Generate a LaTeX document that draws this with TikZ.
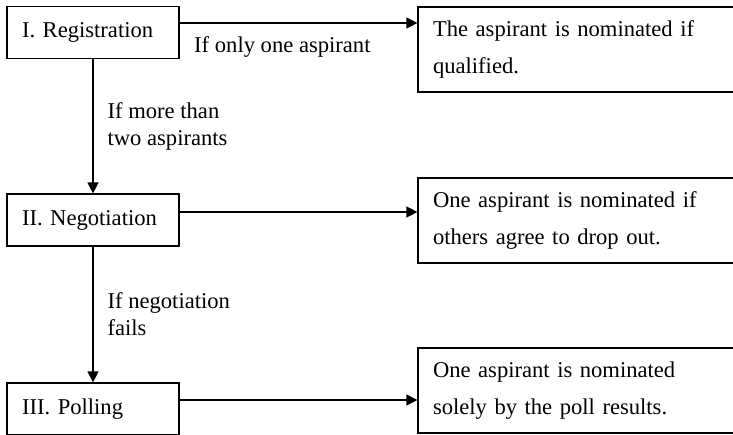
\documentclass[tikz,border=0pt]{standalone}
\usepackage{fontspec}
\setmainfont{Liberation Serif}
\usetikzlibrary{arrows.meta}

\tikzset{
  stage/.style={draw, line width=0.6pt, text width=71pt, inner xsep=7.5pt, inner ysep=0pt,
    minimum height=26pt, align=left, font=\fontsize{11.3}{13.5}\selectfont},
  result/.style={draw, line width=0.6pt, text width=146pt, inner xsep=7.5pt, inner ysep=0pt,
    minimum height=42.5pt, align=left, font=\fontsize{11.3}{18.5}\selectfont},
  cond/.style={inner sep=0pt, align=left, font=\fontsize{11.3}{13.5}\selectfont},
  flow/.style={line width=0.6pt, -{Triangle[length=5.5pt,width=5.5pt]}}
}

\begin{document}
\begin{tikzpicture}[x=0.5pt, y=-0.5pt]
        \useasboundingbox (0,0) rectangle (733,434);

        \node[stage] (reg) at (93, 32.5) {I. Registration};
        \node[stage] (neg) at (93, 220) {II. Negotiation};
        \node[stage] (poll) at (93, 409) {III. Polling};

        \node[result] (nom1) at (579, 49.5) {The aspirant is nominated if\\qualified.};
        \node[result] (nom2) at (579, 220.5) {One aspirant is nominated if\\others agree to drop out.};
        \node[result] (nom3) at (579, 390.5) {One aspirant is nominated\\solely by the poll results.};

        \coordinate (lvl1) at (0, 23);
        \coordinate (lvl2) at (0, 212);
        \coordinate (lvl3) at (0, 400);

        \draw[flow] (reg.east |- lvl1) to node[cond, pos=0, anchor=west, xshift=7pt, yshift=-12pt]{If only one aspirant} (nom1.west |- lvl1);
        \draw[flow] (neg.east |- lvl2) to (nom2.west |- lvl2);
        \draw[flow] (poll.east |- lvl3) to (nom3.west |- lvl3);

        \draw[flow] (reg) to node[cond, right, xshift=7pt]{If more than\\two aspirants} (neg);
        \draw[flow] (neg) to node[cond, right, xshift=7pt]{If negotiation\\fails} (poll);
\end{tikzpicture}
\end{document}
